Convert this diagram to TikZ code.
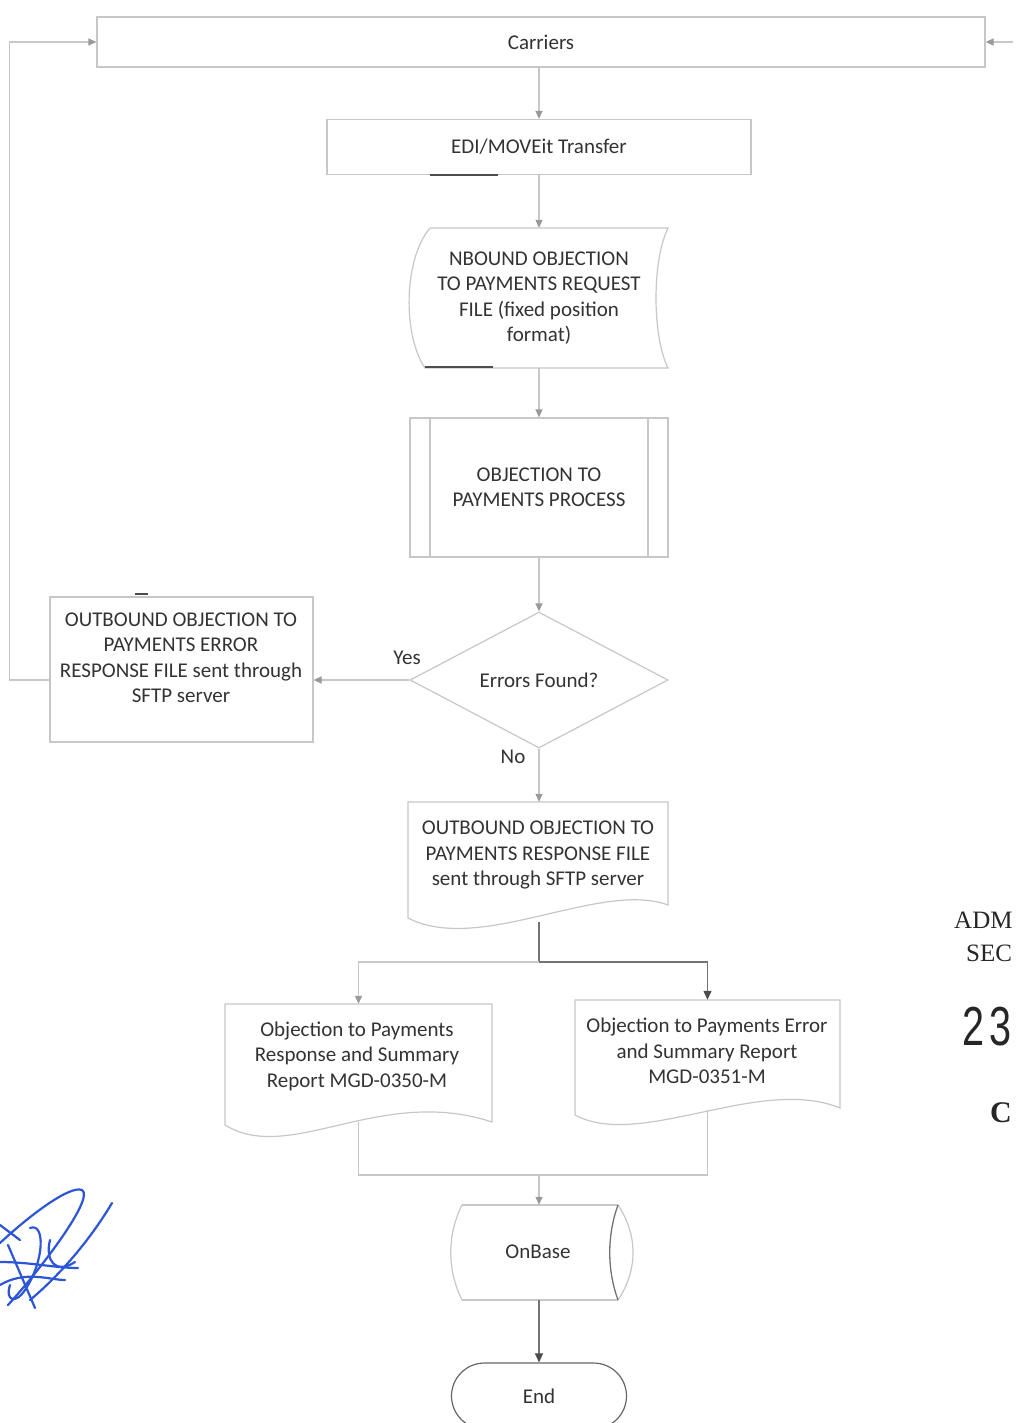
\documentclass[tikz,border=0pt]{standalone}
\usepackage{fontspec}
\setmainfont{Carlito}
\newfontfamily\serifcut{Liberation Serif}
\newfontfamily\sanscut{Liberation Sans}
\usetikzlibrary{arrows.meta,shapes.geometric}
\definecolor{linegray}{gray}{0.78}
\definecolor{txtgray}{gray}{0.2}
\definecolor{sigblue}{RGB}{45,85,215}
\tikzset{
  every node/.style={font=\fontsize{21}{25.5}\selectfont, text=txtgray, align=center, inner sep=0pt},
  ln/.style={draw=linegray, line width=1.2pt},
  darkln/.style={draw=black!55, line width=1.3pt},
  arr/.style={ln, -{Triangle[width=7pt,length=8pt,color=black!40]}},
  darkarr/.style={darkln, -{Triangle[width=8pt,length=9pt,color=black!70]}},
  boxshape/.style={draw=linegray, line width=1.2pt, rectangle},
  sig/.style={draw=sigblue, line width=2.2pt, line cap=round},
  cuttext/.style={text=black!85, anchor=base west},
}
\begin{document}
\begin{tikzpicture}[x=1pt,y=-1pt]
\useasboundingbox (0,0) rectangle (1015,1423);
\fill[white] (0,0) rectangle (1015,1423);

% ---------- nodes ----------
\node[boxshape, minimum width=888pt, minimum height=50pt] (car) at (541,42) {Carriers};
\node[boxshape, minimum width=424pt, minimum height=55pt] (edi) at (539,147) {EDI/MOVEit Transfer};

\node[minimum width=258pt, minimum height=140pt] (inb) at (539,298) {NBOUND OBJECTION\\TO PAYMENTS REQUEST\\FILE (fixed position\\format)};
\draw[ln] (430,228) -- (668,228) .. controls (652,260) and (652,336) .. (668,368) -- (425,368) .. controls (403,336) and (403,260) .. (430,228);

\node[boxshape, minimum width=258pt, minimum height=139pt] (proc) at (539,487.5) {OBJECTION TO\\PAYMENTS PROCESS};
\draw[ln] (430,418) -- (430,557) (648,418) -- (648,557);

\node[diamond, draw=linegray, line width=1.2pt, minimum width=258pt, minimum height=136pt] (dec) at (539,680) {Errors Found?};

\node[boxshape, minimum width=263pt, minimum height=145pt] (err) at (181.5,669.5) {};
\node (errt) at (181,658) {OUTBOUND OBJECTION TO\\PAYMENTS ERROR\\RESPONSE FILE sent through\\SFTP server};

\node (yes) at (407,658) {Yes};
\node (no) at (513,757) {No};

\node[minimum width=260pt, minimum height=120pt] (resp) at (539,862) {};
\node (respt) at (538,855) {OUTBOUND OBJECTION TO\\PAYMENTS RESPONSE FILE\\sent through SFTP server};
\draw[ln] (408,802) -- (668,802) -- (668,905) .. controls (600,880) and (480,955) .. (408,918) -- cycle;

\node[minimum width=267pt, minimum height=118pt] (r1) at (358.5,1063) {};
\node (r1t) at (357,1056) {Objection to Payments\\Response and Summary\\Report MGD-0350-M};
\draw[ln] (225,1004) -- (492,1004) -- (492,1122) .. controls (380,1085) and (290,1165) .. (225,1125) -- cycle;

\node[minimum width=265pt, minimum height=110pt] (r2) at (707.5,1055) {};
\node (r2t) at (707,1051) {Objection to Payments Error\\and Summary Report\\MGD-0351-M};
\draw[ln] (575,1000) -- (840,1000) -- (840,1108) .. controls (760,1075) and (640,1150) .. (575,1115) -- cycle;

\node[minimum width=177pt, minimum height=95pt] (onb) at (539,1252.5) {};
\node (onbt) at (538,1252) {OnBase};
\draw[ln] (462,1205) -- (618,1205) (462,1300) -- (618,1300);
\draw[ln] (462,1205) .. controls (447,1235) and (447,1270) .. (462,1300);
\draw[ln] (618,1205) .. controls (638,1235) and (638,1270) .. (618,1300);
\draw[darkln] (618,1205) .. controls (607,1235) and (607,1270) .. (618,1300);

\node[draw=black!60, line width=1.2pt, rounded corners=33pt, minimum width=175pt, minimum height=66pt] (endn) at (539,1396) {End};

% ---------- connectors ----------
\draw[arr] (edi.north |- car.south) -- (edi.north);
\draw[arr] (edi.south) -- (inb.north);
\draw[arr] (inb.south) -- (proc.north);
\draw[arr] (proc.south) -- (dec.north);
\draw[arr] (dec.west) -- (dec.west -| err.east);
\draw[arr] (err.west |- dec.west) -- ++(-40,0) |- (car.west);
\coordinate (rin) at (1013,42);
\draw[arr] (rin) -- (car.east);
\draw[arr] (dec.south) -- (resp.north);

\coordinate (sp) at (539,962);
\draw[darkln] (resp.south) -- (sp);
\draw[arr] (sp) -| (r1.north);
\draw[darkarr] (sp) -| (r2.north);

\coordinate (mg) at (539,1175);
\draw[ln] (r1.south) |- (mg);
\draw[ln] (r2.south) |- (mg);
\draw[arr] (mg) -- (onb.north);
\draw[darkarr] (onb.south) -- (endn.north);

% ---------- scan marks ----------
\draw[black!70, line width=1.5pt] (430,175) -- (498,175) (425,367) -- (493,367) (135,594) -- (148,594);

% ---------- text at right edge ----------
\node[cuttext, font=\serifcut\fontsize{25}{25}\selectfont] (adm) at (954,928) {ADM};
\node[cuttext, font=\serifcut\fontsize{25}{25}\selectfont] (sec) at (966,961) {SEC};
\node[cuttext, font=\sanscut\fontsize{55}{55}\selectfont] (num) at (962,1045) {\scalebox{0.72}[1]{2\kern8pt 3}};
\node[cuttext, font=\serifcut\bfseries\fontsize{30}{30}\selectfont] (cc) at (990,1122) {C};

% ---------- signature ----------
\draw[sig] (0,1243) .. controls (30,1215) and (70,1185) .. (82,1190) .. controls (95,1198) and (40,1270) .. (8,1305);
\draw[sig] (112,1203) .. controls (90,1240) and (60,1275) .. (30,1300);
\draw[sig] (30,1228) .. controls (45,1222) and (45,1260) .. (25,1290) .. controls (15,1305) and (5,1300) .. (10,1285);
\draw[sig] (8,1245) -- (35,1308);
\draw[sig] (0,1262) .. controls (30,1262) and (55,1268) .. (78,1268);
\draw[sig] (0,1285) .. controls (25,1270) and (50,1280) .. (65,1280);
\draw[sig] (0,1225) -- (20,1240);
\draw[sig] (50,1240) .. controls (45,1260) and (55,1275) .. (75,1262);
\end{tikzpicture}
\end{document}
